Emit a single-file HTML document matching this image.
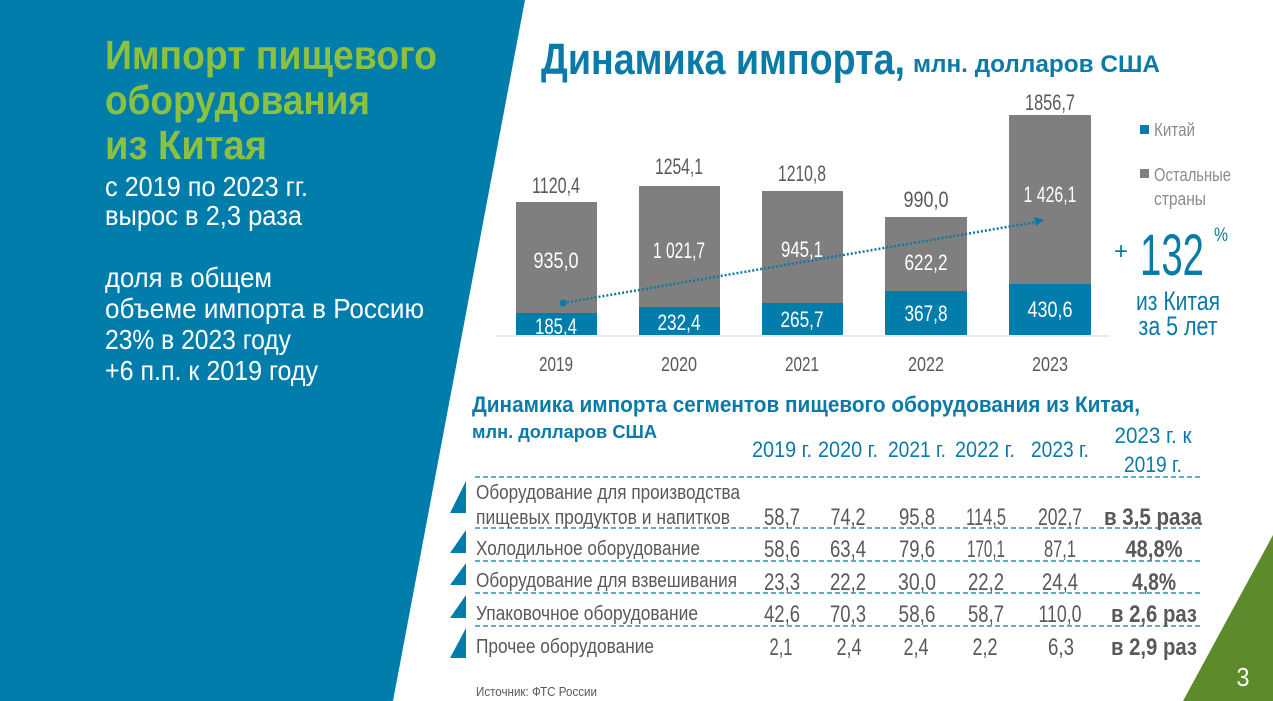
<!DOCTYPE html>
<html><head><meta charset="utf-8"><style>
html,body{margin:0;padding:0;background:#fff;}
svg{display:block;}
text{font-family:"Liberation Sans Narrow","Liberation Sans","DejaVu Sans Condensed",sans-serif;}
</style></head><body>
<svg width="1273" height="701" viewBox="0 0 1273 701" xmlns="http://www.w3.org/2000/svg">
<polygon points="0,0 525,0 393,701 0,701" fill="#007dab"/>
<polygon points="1273,535 1273,701 1183,701" fill="#5d8a2b"/>
<text x="1243" y="686" font-size="26" fill="#fff" text-anchor="middle" textLength="13" lengthAdjust="spacingAndGlyphs">3</text>

<g font-weight="bold" fill="#8cc13f" font-size="41">
<text x="105" y="69" textLength="332" lengthAdjust="spacingAndGlyphs">Импорт пищевого</text>
<text x="105" y="114" textLength="265" lengthAdjust="spacingAndGlyphs">оборудования</text>
<text x="105" y="159" textLength="162" lengthAdjust="spacingAndGlyphs">из Китая</text>
</g>
<g fill="#fff" font-size="28">
<text x="105" y="196" textLength="203" lengthAdjust="spacingAndGlyphs">с 2019 по 2023 гг.</text>
<text x="105" y="225" textLength="197" lengthAdjust="spacingAndGlyphs">вырос в 2,3 раза</text>
<text x="105" y="287" textLength="167" lengthAdjust="spacingAndGlyphs">доля в общем</text>
<text x="105" y="318" textLength="319" lengthAdjust="spacingAndGlyphs">объеме импорта в Россию</text>
<text x="105" y="349" textLength="186" lengthAdjust="spacingAndGlyphs">23% в 2023 году</text>
<text x="105" y="380" textLength="213" lengthAdjust="spacingAndGlyphs">+6 п.п. к 2019 году</text>
</g>

<text x="541" y="74" font-size="44" font-weight="bold" fill="#0a7aa6" textLength="364" lengthAdjust="spacingAndGlyphs">Динамика импорта,</text>
<text x="913" y="72" font-size="24" font-weight="bold" fill="#0a7aa6" textLength="247" lengthAdjust="spacingAndGlyphs">млн. долларов США</text>

<line x1="496" y1="336" x2="1110" y2="336" stroke="#e6e6e6" stroke-width="1.5"/>
<g fill="#7f7f7f">
<rect x="516" y="202" width="81" height="111"/>
<rect x="639" y="186" width="81" height="121"/>
<rect x="762" y="191" width="81" height="112"/>
<rect x="885" y="217" width="82" height="74"/>
<rect x="1009" y="115" width="82" height="169"/>
</g>
<g fill="#007dab">
<rect x="516" y="313" width="81" height="22"/>
<rect x="639" y="307" width="81" height="28"/>
<rect x="762" y="303" width="81" height="32"/>
<rect x="885" y="291" width="82" height="44"/>
<rect x="1009" y="284" width="82" height="51"/>
</g>
<line x1="563" y1="303" x2="1036" y2="222" stroke="#0a7aa6" stroke-width="2.5" stroke-dasharray="2 2"/>
<circle cx="563" cy="303" r="3.5" fill="#0a7aa6"/>
<polygon points="1044,220 1034,217 1036,226" fill="#0a7aa6"/>
<g font-size="22" text-anchor="middle" fill="#595959">
<text x="556" y="193" textLength="48" lengthAdjust="spacingAndGlyphs">1120,4</text>
<text x="679" y="174" textLength="48" lengthAdjust="spacingAndGlyphs">1254,1</text>
<text x="802" y="181" textLength="48" lengthAdjust="spacingAndGlyphs">1210,8</text>
<text x="926" y="207" textLength="45" lengthAdjust="spacingAndGlyphs">990,0</text>
<text x="1050" y="110" textLength="50" lengthAdjust="spacingAndGlyphs">1856,7</text>
</g>
<g font-size="22" text-anchor="middle" fill="#fff">
<text x="556" y="268" textLength="45" lengthAdjust="spacingAndGlyphs">935,0</text>
<text x="679" y="258" textLength="52" lengthAdjust="spacingAndGlyphs">1 021,7</text>
<text x="802" y="257" textLength="42" lengthAdjust="spacingAndGlyphs">945,1</text>
<text x="926" y="270" textLength="43" lengthAdjust="spacingAndGlyphs">622,2</text>
<text x="1050" y="202" textLength="53" lengthAdjust="spacingAndGlyphs">1 426,1</text>
<text x="556" y="334" textLength="42" lengthAdjust="spacingAndGlyphs">185,4</text>
<text x="679" y="330" textLength="43" lengthAdjust="spacingAndGlyphs">232,4</text>
<text x="802" y="327" textLength="43" lengthAdjust="spacingAndGlyphs">265,7</text>
<text x="926" y="321" textLength="43" lengthAdjust="spacingAndGlyphs">367,8</text>
<text x="1050" y="317" textLength="45" lengthAdjust="spacingAndGlyphs">430,6</text>
</g>
<g font-size="20" text-anchor="middle" fill="#595959">
<text x="556" y="371" textLength="34" lengthAdjust="spacingAndGlyphs">2019</text>
<text x="679" y="371" textLength="36" lengthAdjust="spacingAndGlyphs">2020</text>
<text x="802" y="371" textLength="34" lengthAdjust="spacingAndGlyphs">2021</text>
<text x="926" y="371" textLength="36" lengthAdjust="spacingAndGlyphs">2022</text>
<text x="1050" y="371" textLength="36" lengthAdjust="spacingAndGlyphs">2023</text>
</g>

<rect x="1140" y="125" width="9" height="9" fill="#007dab"/>
<text x="1154" y="136" font-size="18" fill="#8c8c8c" textLength="41" lengthAdjust="spacingAndGlyphs">Китай</text>
<rect x="1140" y="169" width="9" height="9" fill="#7f7f7f"/>
<text x="1154" y="181" font-size="18" fill="#8c8c8c" textLength="77" lengthAdjust="spacingAndGlyphs">Остальные</text>
<text x="1154" y="205" font-size="18" fill="#8c8c8c" textLength="52" lengthAdjust="spacingAndGlyphs">страны</text>
<text x="1121" y="259" font-size="24" fill="#0a7aa6" text-anchor="middle">+</text>
<text x="1140" y="275" font-size="58" fill="#0a7aa6" textLength="64" lengthAdjust="spacingAndGlyphs">132</text>
<text x="1214" y="241" font-size="19" fill="#0a7aa6" textLength="14" lengthAdjust="spacingAndGlyphs">%</text>
<text x="1178" y="310" font-size="27" fill="#0a7aa6" text-anchor="middle" textLength="84" lengthAdjust="spacingAndGlyphs">из Китая</text>
<text x="1178" y="335" font-size="27" fill="#0a7aa6" text-anchor="middle" textLength="79" lengthAdjust="spacingAndGlyphs">за 5 лет</text>

<text x="472" y="412" font-size="22" font-weight="bold" fill="#0a7aa6" textLength="668" lengthAdjust="spacingAndGlyphs">Динамика импорта сегментов пищевого оборудования из Китая,</text>
<text x="472" y="438" font-size="18" font-weight="bold" fill="#0a7aa6" textLength="185" lengthAdjust="spacingAndGlyphs">млн. долларов США</text>
<g font-size="22" fill="#0a7aa6" text-anchor="middle">
<text x="782" y="457" textLength="60" lengthAdjust="spacingAndGlyphs">2019 г.</text>
<text x="848" y="457" textLength="60" lengthAdjust="spacingAndGlyphs">2020 г.</text>
<text x="917" y="457" textLength="58" lengthAdjust="spacingAndGlyphs">2021 г.</text>
<text x="985" y="457" textLength="60" lengthAdjust="spacingAndGlyphs">2022 г.</text>
<text x="1060" y="457" textLength="58" lengthAdjust="spacingAndGlyphs">2023 г.</text>
<text x="1153" y="443" textLength="77" lengthAdjust="spacingAndGlyphs">2023 г. к</text>
<text x="1153" y="472" textLength="58" lengthAdjust="spacingAndGlyphs">2019 г.</text>
</g>
<g stroke="#2f8fbd" stroke-width="1.5" stroke-dasharray="5 3">
<line x1="475" y1="477" x2="1200" y2="477"/>
<line x1="475" y1="528" x2="1200" y2="528"/>
<line x1="475" y1="561" x2="1200" y2="561"/>
<line x1="475" y1="593" x2="1200" y2="593"/>
<line x1="475" y1="626" x2="1200" y2="626"/>
</g>
<g fill="#007dab">
<polygon points="466,481 466,513 450,513"/>
<polygon points="466,530 466,553 450,553"/>
<polygon points="466,563 466,585 450,585"/>
<polygon points="466,595 466,618 450,618"/>
<polygon points="466,628 466,658 450,658"/>
</g>
<g font-size="20" fill="#595959">
<text x="476" y="499" textLength="264" lengthAdjust="spacingAndGlyphs">Оборудование для производства</text>
<text x="476" y="524" textLength="254" lengthAdjust="spacingAndGlyphs">пищевых продуктов и напитков</text>
<text x="476" y="555" textLength="224" lengthAdjust="spacingAndGlyphs">Холодильное оборудование</text>
<text x="476" y="587" textLength="261" lengthAdjust="spacingAndGlyphs">Оборудование для взвешивания</text>
<text x="476" y="620" textLength="222" lengthAdjust="spacingAndGlyphs">Упаковочное оборудование</text>
<text x="476" y="653" textLength="178" lengthAdjust="spacingAndGlyphs">Прочее оборудование</text>
</g>
<g font-size="24" fill="#595959" text-anchor="middle">
<text x="782" y="525" textLength="36" lengthAdjust="spacingAndGlyphs">58,7</text><text x="848" y="525" textLength="35" lengthAdjust="spacingAndGlyphs">74,2</text><text x="917" y="525" textLength="36" lengthAdjust="spacingAndGlyphs">95,8</text><text x="986" y="525" textLength="40" lengthAdjust="spacingAndGlyphs">114,5</text><text x="1060" y="525" textLength="44" lengthAdjust="spacingAndGlyphs">202,7</text>
<text x="782" y="557" textLength="36" lengthAdjust="spacingAndGlyphs">58,6</text><text x="848" y="557" textLength="36" lengthAdjust="spacingAndGlyphs">63,4</text><text x="917" y="557" textLength="36" lengthAdjust="spacingAndGlyphs">79,6</text><text x="986" y="557" textLength="38" lengthAdjust="spacingAndGlyphs">170,1</text><text x="1060" y="557" textLength="32" lengthAdjust="spacingAndGlyphs">87,1</text>
<text x="782" y="590" textLength="36" lengthAdjust="spacingAndGlyphs">23,3</text><text x="848" y="590" textLength="36" lengthAdjust="spacingAndGlyphs">22,2</text><text x="917" y="590" textLength="38" lengthAdjust="spacingAndGlyphs">30,0</text><text x="986" y="590" textLength="36" lengthAdjust="spacingAndGlyphs">22,2</text><text x="1060" y="590" textLength="36" lengthAdjust="spacingAndGlyphs">24,4</text>
<text x="782" y="622" textLength="36" lengthAdjust="spacingAndGlyphs">42,6</text><text x="848" y="622" textLength="36" lengthAdjust="spacingAndGlyphs">70,3</text><text x="917" y="622" textLength="37" lengthAdjust="spacingAndGlyphs">58,6</text><text x="986" y="622" textLength="36" lengthAdjust="spacingAndGlyphs">58,7</text><text x="1060" y="622" textLength="43" lengthAdjust="spacingAndGlyphs">110,0</text>
<text x="781" y="655" textLength="23" lengthAdjust="spacingAndGlyphs">2,1</text><text x="849" y="655" textLength="25" lengthAdjust="spacingAndGlyphs">2,4</text><text x="916" y="655" textLength="25" lengthAdjust="spacingAndGlyphs">2,4</text><text x="985" y="655" textLength="25" lengthAdjust="spacingAndGlyphs">2,2</text><text x="1061" y="655" textLength="26" lengthAdjust="spacingAndGlyphs">6,3</text>
</g>
<g font-size="24" font-weight="bold" fill="#595959" text-anchor="middle">
<text x="1153" y="525" textLength="98" lengthAdjust="spacingAndGlyphs">в 3,5 раза</text>
<text x="1154" y="557" textLength="57" lengthAdjust="spacingAndGlyphs">48,8%</text>
<text x="1154" y="590" textLength="44" lengthAdjust="spacingAndGlyphs">4,8%</text>
<text x="1154" y="622" textLength="86" lengthAdjust="spacingAndGlyphs">в 2,6 раз</text>
<text x="1154" y="655" textLength="86" lengthAdjust="spacingAndGlyphs">в 2,9 раз</text>
</g>
<text x="476" y="696" font-size="13" fill="#595959" textLength="121" lengthAdjust="spacingAndGlyphs">Источник: ФТС России</text>
</svg>
</body></html>
